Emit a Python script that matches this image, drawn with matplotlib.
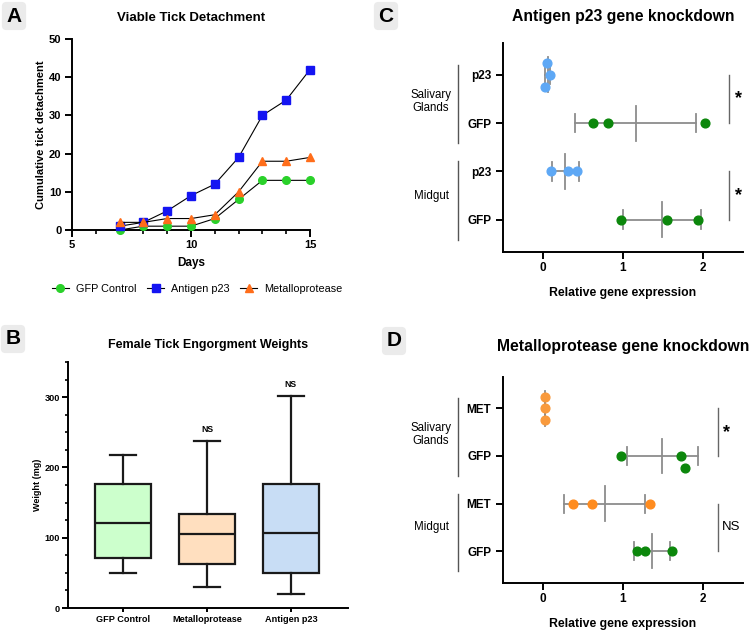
import numpy as np
import matplotlib
matplotlib.use("Agg")
import matplotlib.pyplot as plt

plt.rcParams['font.family'] = ['Liberation Sans', 'DejaVu Sans']

# ---- panel A data
days = [7, 8, 9, 10, 11, 12, 13, 14, 15]
gfp_detach = [0, 1, 1, 1, 3, 8, 13, 13, 13]
p23_detach = [1, 2, 5, 9, 12, 19, 30, 34, 42]
met_detach = [2, 2, 3, 3, 4, 10, 18, 18, 19]

# ---- panel B data (box stats, mg)
box_names = ['GFP Control', 'Metalloprotease', 'Antigen p23']
box_low = [50, 30, 20]
box_q1 = [71, 62, 50]
box_med = [121, 105, 107]
box_q3 = [177, 134, 176]
box_high = [218, 238, 301]
box_sig = ['', 'NS', 'NS']

# ---- panel C data (relative expression)
c_labels = ['p23', 'GFP', 'p23', 'GFP']
c_sg_p23 = [0.05, 0.09, 0.03]
c_sg_gfp = [0.63, 0.81, 2.03]
c_mg_p23 = [0.10, 0.31, 0.43]
c_mg_gfp = [0.97, 1.55, 1.94]

# ---- panel D data
d_labels = ['MET', 'GFP', 'MET', 'GFP']
d_sg_met = [0.02, 0.02, 0.02]
d_sg_gfp = [0.98, 1.72, 1.78]
d_mg_met = [0.37, 0.61, 1.34]
d_mg_gfp = [1.18, 1.28, 1.61]

BLUE_L = '#5ea8f5'
GREEN_D = '#0c870c'
ORANGE = '#f99a3c'
GRAY = '#8c8c8c'

fig = plt.figure(figsize=(7.5, 6.33), dpi=100)


def panel_letter(x, y, s):
    fig.text(x / 750, 1 - y / 633, s, fontsize=15, fontweight='bold',
             ha='center', va='center',
             bbox=dict(boxstyle='round,pad=0.22', fc='#ebebeb', ec='none'))


def prism_spines(ax, lw=1.4):
    for s in ['top', 'right']:
        ax.spines[s].set_visible(False)
    for s in ['left', 'bottom']:
        ax.spines[s].set_linewidth(lw)
    ax.tick_params(width=lw)


# ================= A
axA = fig.add_axes([72 / 750, 1 - 230 / 633, 238 / 750, 191 / 633])
axA.plot(days, gfp_detach, color='black', lw=0.8, marker='o', ms=5.5,
         mfc='#2ad12a', mec='#2ad12a', label='GFP Control', clip_on=False, zorder=3)
axA.plot(days, p23_detach, color='black', lw=0.8, marker='s', ms=5.5,
         mfc='#1414f2', mec='#1414f2', label='Antigen p23', clip_on=False, zorder=3)
axA.plot(days, met_detach, color='black', lw=0.8, marker='^', ms=5.5,
         mfc='#ff6d1a', mec='#ff6d1a', label='Metalloprotease', clip_on=False, zorder=3)
axA.set_xlim(5, 15)
axA.set_ylim(0, 50)
axA.set_xticks([5, 10, 15])
axA.set_xticks(np.arange(5, 16, 1), minor=True)
axA.set_yticks([0, 10, 20, 30, 40, 50])
prism_spines(axA)
axA.tick_params(which='major', length=5, labelsize=8, pad=2.5)
axA.tick_params(which='minor', length=3, width=1.2)
for t in axA.get_xticklabels() + axA.get_yticklabels():
    t.set_fontweight('bold')
axA.set_xlabel('Days', fontsize=8.5, fontweight='bold', labelpad=5)
axA.set_ylabel('Cumulative tick detachment', fontsize=8, fontweight='bold', labelpad=2)
axA.set_title('Viable Tick Detachment', fontsize=9.5, fontweight='bold', pad=13)
axA.legend(loc='center', bbox_to_anchor=(0.525, -0.31), ncol=3, frameon=False,
           fontsize=7.8, handlelength=1.6, columnspacing=1.0, handletextpad=0.6)
panel_letter(14, 16, 'A')

# ================= B
axB = fig.add_axes([68 / 750, 1 - 608 / 633, 280 / 750, 246 / 633])
box_colors = ['#ccffcc', '#ffdfbf', '#c8ddf5']
stats = []
for i in range(3):
    stats.append(dict(whislo=box_low[i], q1=box_q1[i], med=box_med[i],
                      q3=box_q3[i], whishi=box_high[i], fliers=[]))
bp = axB.bxp(stats, positions=[1, 2, 3], widths=0.66, capwidths=0.3,
             patch_artist=True, showfliers=False,
             boxprops=dict(lw=1.6, edgecolor='#1a1a1a'),
             medianprops=dict(lw=1.6, color='#1a1a1a'),
             whiskerprops=dict(lw=1.6, color='#1a1a1a'),
             capprops=dict(lw=1.6, color='#1a1a1a'))
for patch, c in zip(bp['boxes'], box_colors):
    patch.set_facecolor(c)
for i, s in enumerate(box_sig):
    if s:
        axB.text(i + 1, box_high[i] + 10, s, ha='center', va='bottom',
                 fontsize=6.2, fontweight='bold')
axB.set_xlim(0.345, 3.68)
axB.set_ylim(0, 350)
axB.set_yticks([0, 100, 200, 300])
axB.set_yticks(np.arange(0, 351, 25), minor=True)
axB.set_xticks([1, 2, 3])
axB.set_xticklabels(box_names)
prism_spines(axB)
axB.tick_params(which='major', length=4, labelsize=6.6, pad=2)
axB.tick_params(which='minor', length=2.5, width=1.2)
axB.tick_params(axis='x', length=3)
for t in axB.get_xticklabels() + axB.get_yticklabels():
    t.set_fontweight('bold')
axB.set_ylabel('Weight (mg)', fontsize=6.5, fontweight='bold', labelpad=2)
axB.set_title('Female Tick Engorgment Weights', fontsize=9, fontweight='bold', pad=10)
panel_letter(13, 339, 'B')


# ================= C / D helpers
def dot_group(ax, y, vals, color, jitter=None):
    vals = np.asarray(vals)
    m = vals.mean()
    sd = vals.std(ddof=1)
    ax.plot([m - sd, m + sd], [y, y], color=GRAY, lw=1.3, zorder=1)
    for xx in (m - sd, m + sd):
        ax.plot([xx, xx], [y - 0.19, y + 0.19], color=GRAY, lw=1.3, zorder=1)
    ax.plot([m, m], [y - 0.36, y + 0.36], color=GRAY, lw=1.3, zorder=1)
    if jitter is None:
        jitter = [0] * len(vals)
    ax.plot(vals, y + np.asarray(jitter), 'o', color=color, ms=6.3, mec=color,
            zorder=3, clip_on=False)


def knockdown_axes(rect, title, labels, title_pad):
    ax = fig.add_axes(rect)
    ax.set_xlim(-0.5, 2.5)
    ax.set_ylim(0.33, 4.66)
    ax.set_xticks([0, 1, 2])
    ax.set_yticks([4, 3, 2, 1])
    ax.set_yticklabels(labels)
    prism_spines(ax)
    ax.tick_params(length=5, labelsize=8.5)
    ax.tick_params(axis='x', pad=2.5)
    for t in ax.get_xticklabels() + ax.get_yticklabels():
        t.set_fontweight('bold')
    ax.set_xlabel('Relative gene expression', fontsize=8.8, fontweight='bold', labelpad=9)
    ax.set_title(title, fontsize=11.3, fontweight='bold', pad=title_pad)
    tr = ax.get_yaxis_transform()
    for (y0, y1, ylab, txt) in [(2.58, 4.21, 3.45, 'Salivary\nGlands'),
                                (0.58, 2.21, 1.5, 'Midgut')]:
        ax.plot([-0.1875, -0.1875], [y0, y1], color='#555555', lw=1.0,
                transform=tr, clip_on=False)
        ax.text(-0.30, ylab, txt, transform=tr, ha='center', va='center',
                fontsize=8.3, linespacing=1.15)
    return ax


# ================= C
axC = knockdown_axes([503 / 750, 1 - 252 / 633, 240 / 750, 209 / 633],
                     'Antigen p23 gene knockdown', c_labels, 16)
dot_group(axC, 4, c_sg_p23, BLUE_L, jitter=[0.25, 0, -0.25])
dot_group(axC, 3, c_sg_gfp, GREEN_D)
dot_group(axC, 2, c_mg_p23, BLUE_L)
dot_group(axC, 1, c_mg_gfp, GREEN_D)
for (ya, yb) in [(3, 4), (1, 2)]:
    axC.plot([2.33, 2.33], [ya, yb], color='#666666', lw=1.0, clip_on=False)
    axC.text(2.45, (ya + yb) / 2, '*', ha='center', va='center',
             fontsize=13, fontweight='bold', clip_on=False)
panel_letter(386, 16, 'C')

# ================= D
axD = knockdown_axes([503 / 750, 1 - 583 / 633, 240 / 750, 206 / 633],
                     'Metalloprotease gene knockdown', d_labels, 19)
dot_group(axD, 4, d_sg_met, ORANGE, jitter=[0.25, 0, -0.25])
dot_group(axD, 3, d_sg_gfp, GREEN_D, jitter=[0, 0, -0.25])
dot_group(axD, 2, d_mg_met, '#ff8c1f')
dot_group(axD, 1, d_mg_gfp, GREEN_D)
for (ya, yb), s in zip([(3, 4), (1, 2)], ['*', 'NS']):
    axD.plot([2.19, 2.19], [ya, yb], color='#666666', lw=1.0, clip_on=False)
    if s == '*':
        axD.text(2.30, (ya + yb) / 2, s, ha='center', va='center',
                 fontsize=13, fontweight='bold', clip_on=False)
    else:
        axD.text(2.35, (ya + yb) / 2, s, ha='center', va='center',
                 fontsize=9.5, clip_on=False)
panel_letter(394, 341, 'D')

fig.savefig('out.png', dpi=100)
